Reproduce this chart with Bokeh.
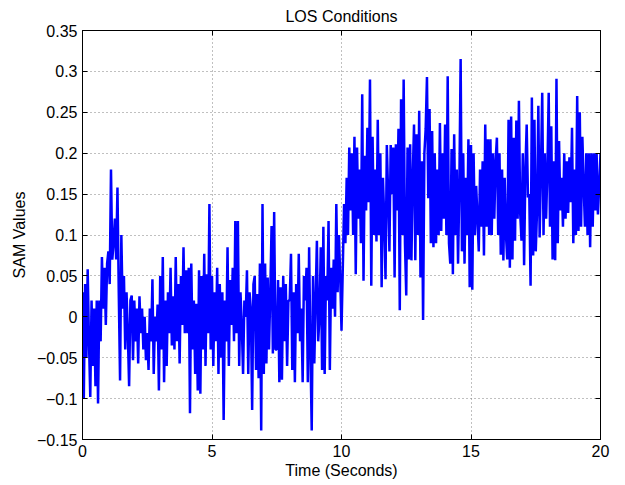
import numpy as np
from bokeh.plotting import figure
from bokeh.models import (Range1d, LinearAxis, FixedTicker, ColumnDataSource,
                          CustomLabelingPolicy)
from bokeh.embed import file_html
from bokeh.resources import INLINE

title_text = "LOS Conditions"
x_label = "Time (Seconds)"
y_label = "SAM Values"
x_ticks = [0, 5, 10, 15, 20]
x_tick_labels = ["0", "5", "10", "15", "20"]
y_ticks = [-0.15, -0.1, -0.05, 0, 0.05, 0.1, 0.15, 0.2, 0.25, 0.3, 0.35]
y_tick_labels = ["\u22120.15", "\u22120.1", "\u22120.05", "0", "0.05", "0.1",
                 "0.15", "0.2", "0.25", "0.3", "0.35"]
sample_step = 0.05  # seconds between samples

# SAM values, 0-5 s
sam_0_5 = [
    0.03, -0.1, 0.04, -0.05, 0.058, -0.03, -0.098, 0.02, -0.06, 0.01,
    -0.085, 0.02, -0.106, 0.02, -0.03, 0.073, 0.01, 0.06, -0.01, 0.065,
    0.08, 0.04, 0.18, 0.07, 0.09, 0.12, 0.07, 0.158, 0.03, -0.078,
    0.1, 0.01, 0.05, -0.04, 0.03, -0.02, -0.085, 0.02, 0.026, -0.053,
    0.02, -0.03, 0.01, -0.057, 0.025, -0.02, 0.01, -0.04, 0.0, -0.053,
    -0.02, -0.065, 0.01, -0.03, 0.046, -0.07, 0.0, -0.03, 0.015, -0.09,
    0.05, -0.04, 0.073, -0.08, 0.02, -0.06, 0.03, -0.02, 0.06, -0.035,
    0.025, -0.04, 0.073, -0.03, 0.04, -0.057, 0.05, -0.01, 0.085, -0.02,
    0.057, -0.02, 0.06, -0.118, 0.065, -0.04, 0.02, -0.07, 0.016, -0.09,
    0.057, -0.094, 0.05, -0.04, 0.077, -0.06, 0.052, -0.02, 0.138, -0.04,
]
# 5-10 s
sam_5_10 = [
    0.05, -0.06, 0.03, -0.03, 0.06, -0.07, 0.04, -0.05, 0.03, -0.126,
    0.02, -0.03, 0.085, -0.06, 0.045, -0.01, 0.06, -0.03, 0.117, -0.02,
    0.117, -0.06, 0.03, -0.01, -0.07, 0.02, 0.0, 0.057, -0.07, 0.03,
    0.01, -0.114, 0.04, 0.05, -0.065, 0.028, -0.075, 0.065, -0.139, 0.138,
    -0.07, 0.065, -0.057, 0.048, -0.04, 0.028, 0.111, -0.045, 0.128, -0.04,
    -0.04, 0.045, -0.08, 0.036, -0.077, 0.05, -0.03, 0.04, -0.06, 0.02,
    0.02, 0.077, -0.065, 0.03, -0.08, 0.04, -0.02, 0.077, -0.03, 0.01,
    -0.08, 0.05, 0.02, 0.06, -0.08, 0.085, -0.04, -0.139, 0.05, -0.057,
    0.02, 0.093, -0.03, 0.0, 0.085, -0.065, 0.11, -0.07, 0.05, 0.02,
    0.117, -0.065, 0.06, 0.01, 0.07, 0.0, 0.138, 0.03, 0.1, 0.05,
]
# 10-15 s
sam_10_15 = [
    -0.017, 0.06, 0.138, 0.09, 0.17, 0.1, 0.207, 0.13, 0.2, 0.1,
    0.22, 0.052, 0.207, 0.12, 0.18, 0.09, 0.272, 0.044, 0.197, 0.13,
    0.231, 0.14, 0.29, 0.038, 0.22, 0.1, 0.18, 0.092, 0.241, 0.1,
    0.2, 0.036, 0.17, 0.12, 0.046, 0.21, 0.15, 0.08, 0.21, 0.15,
    0.207, 0.048, 0.211, 0.13, 0.23, 0.008, 0.266, 0.1, 0.29, 0.09,
    0.026, 0.207, 0.07, 0.211, 0.069, 0.17, 0.235, 0.069, 0.223, 0.1,
    0.252, 0.048, 0.19, -0.004, 0.2, 0.23, 0.293, 0.145, 0.254, 0.09,
    0.227, 0.085, 0.2, 0.09, 0.18, 0.1, 0.237, 0.105, 0.2, 0.12,
    0.235, 0.1, 0.294, 0.09, 0.065, 0.205, 0.052, 0.223, 0.1, 0.18,
    0.065, 0.16, 0.315, 0.08, 0.2, 0.065, 0.17, 0.1, 0.217, 0.036,
]
# 15-20 s
sam_15_20 = [
    0.21, 0.033, 0.2, 0.1, 0.16, 0.12, 0.08, 0.18, 0.11, 0.19,
    0.075, 0.235, 0.11, 0.217, 0.1, 0.217, 0.1, 0.2, 0.12, 0.19,
    0.219, 0.1, 0.2, 0.076, 0.18, 0.069, 0.17, 0.1, 0.07, 0.241,
    0.06, 0.245, 0.07, 0.219, 0.093, 0.24, 0.12, 0.264, 0.126, 0.093,
    0.2, 0.063, 0.18, 0.235, 0.146, 0.15, 0.038, 0.268, 0.075, 0.241,
    0.08, 0.13, 0.258, 0.097, 0.18, 0.274, 0.1, 0.2, 0.12, 0.18,
    0.274, 0.11, 0.233, 0.07, 0.19, 0.069, 0.291, 0.09, 0.215, 0.13,
    0.17, 0.11, 0.2, 0.12, 0.19, 0.127, 0.195, 0.14, 0.231, 0.09,
    0.18, 0.1, 0.27, 0.105, 0.25, 0.11, 0.22, 0.16, 0.11, 0.2,
    0.1, 0.2, 0.085, 0.2, 0.11, 0.2, 0.13, 0.2, 0.125, 0.16,
    0.2,
]

sam = sam_0_5 + sam_5_10 + sam_10_15 + sam_15_20
time = [round(i * sample_step, 4) for i in range(len(sam))]
source = ColumnDataSource(data=dict(t=time, v=sam))

FONT = "Liberation Sans"
FS = "16px"

p = figure(width=625, height=485, output_backend="svg", toolbar_location=None,
           x_range=Range1d(0, 20), y_range=Range1d(-0.15, 0.35),
           min_border_left=82, min_border_right=25, min_border_top=30,
           min_border_bottom=46, background_fill_color="white",
           border_fill_color="white")

p.title.text = title_text
p.title.align = "center"
p.title.text_font = FONT
p.title.text_font_size = FS
p.title.text_font_style = "normal"
p.title.text_color = "black"
p.title.standoff = 11

p.line("t", "v", source=source, line_color="#0000ff", line_width=2.5)

no_labels = CustomLabelingPolicy(code="for (const i of indices) if (i < 0) yield i")

def style_axis(ax, ticks, labels, show_labels=True):
    ax.ticker = FixedTicker(ticks=ticks)
    ax.major_tick_in = 5
    ax.major_tick_out = 0
    ax.minor_tick_in = 0
    ax.minor_tick_out = 0
    ax.axis_line_color = "black"
    ax.major_tick_line_color = "black"
    if show_labels:
        ax.major_label_overrides = dict(zip(ticks, labels))
        ax.major_label_text_font = FONT
        ax.major_label_text_font_size = FS
        ax.major_label_text_color = "black"
        ax.axis_label_text_font = FONT
        ax.axis_label_text_font_size = FS
        ax.axis_label_text_font_style = "normal"
        ax.axis_label_text_color = "black"
    else:
        ax.major_label_text_font_size = "0px"
        ax.major_label_standoff = 0
        ax.major_label_policy = no_labels

style_axis(p.xaxis[0], x_ticks, x_tick_labels)
p.xaxis[0].axis_label = x_label
p.xaxis[0].major_label_standoff = 5
p.xaxis[0].axis_label_standoff = 2

style_axis(p.yaxis[0], y_ticks, y_tick_labels)
p.yaxis[0].axis_label = y_label
p.yaxis[0].major_label_standoff = 5
p.yaxis[0].axis_label_standoff = 6

top_axis = LinearAxis()
style_axis(top_axis, x_ticks, x_tick_labels, show_labels=False)
p.add_layout(top_axis, "above")
right_axis = LinearAxis()
style_axis(right_axis, y_ticks, y_tick_labels, show_labels=False)
p.add_layout(right_axis, "right")

p.xgrid.ticker = FixedTicker(ticks=x_ticks)
p.ygrid.ticker = FixedTicker(ticks=y_ticks)
p.grid.grid_line_color = "#808080"
p.grid.grid_line_dash = "1 3"
p.grid.grid_line_width = 1

p.outline_line_color = "black"
p.outline_line_width = 1
p.outline_line_alpha = 1

open("out.html", "w").write(file_html(p, INLINE))
